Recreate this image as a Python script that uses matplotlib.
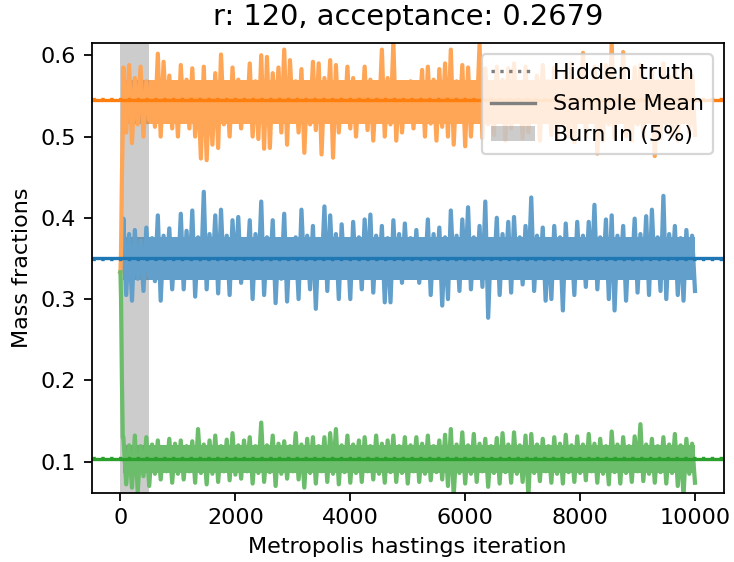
# Metropolis hastings trace of the mass fractions

import numpy as np
import matplotlib
matplotlib.use('Agg')
import matplotlib.pyplot as plt
import matplotlib.colors as mcolors
from matplotlib.lines import Line2D
from matplotlib.patches import Patch

# Chain settings
r_value = 120
acceptance = 0.2679
n_iter = 10000
burn_in = 500

# First few iterations (chain starts at 1/3 each)
start_iter = [0, 10, 25, 40]
start_blue = [0.333, 0.334, 0.338, 0.345]
start_orange = [0.333, 0.36, 0.45, 0.51]
start_green = [0.333, 0.30, 0.20, 0.13]

# Upper / lower excursions of the trace in each block of 100 iterations
orange_hi = [
    0.585, 0.588, 0.572, 0.586, 0.568, 0.566, 0.602, 0.592, 0.575, 0.566,
    0.588, 0.570, 0.584, 0.565, 0.586, 0.562, 0.578, 0.601, 0.566, 0.585,
    0.570, 0.564, 0.590, 0.568, 0.600, 0.598, 0.578, 0.585, 0.607, 0.594,
    0.568, 0.583, 0.565, 0.592, 0.590, 0.572, 0.594, 0.588, 0.566, 0.586,
    0.572, 0.565, 0.586, 0.570, 0.563, 0.607, 0.572, 0.616, 0.566, 0.562,
    0.568, 0.564, 0.582, 0.586, 0.570, 0.583, 0.590, 0.607, 0.568, 0.588,
    0.585, 0.566, 0.613, 0.584, 0.565, 0.586, 0.570, 0.584, 0.590, 0.566,
    0.586, 0.565, 0.575, 0.588, 0.568, 0.585, 0.564, 0.580, 0.590, 0.570,
    0.603, 0.568, 0.586, 0.565, 0.588, 0.614, 0.570, 0.604, 0.566, 0.585,
    0.588, 0.565, 0.580, 0.568, 0.590, 0.574, 0.586, 0.565, 0.582, 0.575,
]
orange_lo = [
    0.505, 0.492, 0.515, 0.500, 0.520, 0.512, 0.500, 0.522, 0.510, 0.500,
    0.518, 0.510, 0.500, 0.473, 0.471, 0.490, 0.486, 0.515, 0.500, 0.522,
    0.510, 0.520, 0.500, 0.497, 0.485, 0.486, 0.518, 0.505, 0.490, 0.522,
    0.505, 0.480, 0.515, 0.508, 0.478, 0.520, 0.474, 0.505, 0.518, 0.510,
    0.500, 0.520, 0.508, 0.495, 0.522, 0.500, 0.515, 0.495, 0.505, 0.520,
    0.510, 0.522, 0.500, 0.516, 0.495, 0.512, 0.500, 0.490, 0.518, 0.488,
    0.500, 0.520, 0.498, 0.515, 0.502, 0.520, 0.495, 0.510, 0.521, 0.498,
    0.505, 0.518, 0.495, 0.520, 0.502, 0.498, 0.515, 0.500, 0.493, 0.520,
    0.500, 0.518, 0.479, 0.495, 0.515, 0.498, 0.520, 0.500, 0.495, 0.515,
    0.500, 0.520, 0.476, 0.498, 0.515, 0.500, 0.495, 0.520, 0.505, 0.502,
]
blue_hi = [
    0.399, 0.380, 0.385, 0.372, 0.388, 0.375, 0.403, 0.378, 0.387, 0.374,
    0.405, 0.384, 0.409, 0.376, 0.432, 0.380, 0.403, 0.410, 0.378, 0.397,
    0.401, 0.374, 0.397, 0.380, 0.420, 0.376, 0.397, 0.373, 0.405, 0.372,
    0.376, 0.410, 0.378, 0.390, 0.374, 0.414, 0.403, 0.380, 0.392, 0.374,
    0.395, 0.376, 0.398, 0.404, 0.378, 0.390, 0.375, 0.397, 0.380, 0.393,
    0.375, 0.385, 0.373, 0.398, 0.380, 0.388, 0.376, 0.409, 0.378, 0.398,
    0.413, 0.376, 0.390, 0.420, 0.374, 0.400, 0.380, 0.395, 0.401, 0.376,
    0.390, 0.425, 0.378, 0.388, 0.374, 0.390, 0.376, 0.393, 0.373, 0.395,
    0.378, 0.395, 0.416, 0.376, 0.398, 0.403, 0.378, 0.390, 0.374, 0.399,
    0.380, 0.402, 0.410, 0.376, 0.427, 0.380, 0.390, 0.375, 0.385, 0.378,
]
blue_lo = [
    0.305, 0.298, 0.325, 0.310, 0.328, 0.322, 0.298, 0.330, 0.312, 0.326,
    0.312, 0.328, 0.303, 0.326, 0.312, 0.330, 0.307, 0.326, 0.305, 0.328,
    0.320, 0.330, 0.300, 0.326, 0.305, 0.328, 0.295, 0.325, 0.297, 0.326,
    0.300, 0.328, 0.312, 0.288, 0.330, 0.310, 0.327, 0.300, 0.328, 0.300,
    0.326, 0.312, 0.330, 0.308, 0.328, 0.296, 0.296, 0.326, 0.320, 0.330,
    0.328, 0.320, 0.330, 0.305, 0.326, 0.292, 0.300, 0.328, 0.310, 0.330,
    0.312, 0.326, 0.315, 0.277, 0.328, 0.305, 0.330, 0.308, 0.326, 0.318,
    0.328, 0.310, 0.326, 0.298, 0.300, 0.330, 0.286, 0.326, 0.305, 0.328,
    0.315, 0.328, 0.312, 0.326, 0.300, 0.286, 0.328, 0.298, 0.330, 0.308,
    0.326, 0.305, 0.328, 0.310, 0.300, 0.328, 0.305, 0.298, 0.326, 0.310,
]
green_hi = [
    0.130, 0.120, 0.132, 0.119, 0.130, 0.121, 0.126, 0.118, 0.128, 0.122,
    0.126, 0.119, 0.125, 0.140, 0.121, 0.126, 0.132, 0.119, 0.127, 0.135,
    0.120, 0.126, 0.130, 0.119, 0.148, 0.120, 0.132, 0.122, 0.125, 0.119,
    0.135, 0.121, 0.128, 0.130, 0.119, 0.130, 0.135, 0.140, 0.120, 0.132,
    0.121, 0.126, 0.130, 0.119, 0.132, 0.122, 0.126, 0.132, 0.119, 0.130,
    0.120, 0.130, 0.122, 0.132, 0.119, 0.126, 0.133, 0.140, 0.121, 0.136,
    0.120, 0.134, 0.122, 0.128, 0.119, 0.129, 0.135, 0.121, 0.136, 0.120,
    0.132, 0.134, 0.121, 0.128, 0.119, 0.130, 0.122, 0.133, 0.120, 0.131,
    0.121, 0.134, 0.122, 0.128, 0.119, 0.137, 0.121, 0.130, 0.119, 0.131,
    0.146, 0.121, 0.128, 0.119, 0.130, 0.121, 0.134, 0.120, 0.128, 0.122,
]
green_lo = [
    0.072, 0.068, 0.063, 0.082, 0.070, 0.085, 0.078, 0.088, 0.074, 0.085,
    0.078, 0.088, 0.074, 0.086, 0.072, 0.085, 0.075, 0.088, 0.077, 0.084,
    0.079, 0.088, 0.073, 0.086, 0.075, 0.087, 0.070, 0.085, 0.079, 0.088,
    0.078, 0.068, 0.086, 0.073, 0.088, 0.075, 0.085, 0.072, 0.087, 0.074,
    0.086, 0.075, 0.088, 0.078, 0.085, 0.074, 0.087, 0.075, 0.086, 0.073,
    0.088, 0.075, 0.085, 0.077, 0.087, 0.078, 0.070, 0.058, 0.086, 0.073,
    0.085, 0.075, 0.088, 0.069, 0.086, 0.073, 0.087, 0.074, 0.085, 0.075,
    0.057, 0.086, 0.076, 0.088, 0.074, 0.085, 0.073, 0.087, 0.075, 0.086,
    0.077, 0.088, 0.074, 0.085, 0.072, 0.087, 0.073, 0.086, 0.075, 0.088,
    0.076, 0.085, 0.074, 0.087, 0.073, 0.086, 0.070, 0.058, 0.085, 0.074,
]

# Range that the trace fills densely (blue, orange, green)
core_lo = [0.324, 0.516, 0.086]
core_hi = [0.376, 0.569, 0.120]

# Hidden truth and sample mean of each fraction (blue, orange, green)
hidden_truth = [0.349, 0.546, 0.104]
sample_mean = [0.3505, 0.5452, 0.1037]
colors = ['C0', 'C1', 'C2']


def build_trace(start, hi, lo):
    # zig-zag between the upper and lower excursions, two steps per block
    vals = np.column_stack([hi, lo]).ravel()
    steps = np.arange(1, len(vals) + 1) * (n_iter / len(vals))
    return np.concatenate([start_iter, steps]), np.concatenate([start, vals])


def faded(c, alpha=0.7):
    # colour of the trace drawn with alpha over white, as an opaque colour
    rgb = np.array(mcolors.to_rgb(c))
    return tuple(alpha * rgb + (1 - alpha))


traces = [
    build_trace(start_blue, blue_hi, blue_lo),
    build_trace(start_orange, orange_hi, orange_lo),
    build_trace(start_green, green_hi, green_lo),
]

fig = plt.figure(figsize=(734 / 160, 562 / 160), dpi=160)
ax = fig.add_subplot(111)
fig.subplots_adjust(left=0.125, right=0.986, bottom=0.123, top=0.923)

for (it, tr), lo, hi, c in zip(traces, core_lo, core_hi, colors):
    ax.fill_between([start_iter[-1], n_iter], lo, hi, color=faded(c), lw=0)
    ax.plot(it, tr, color=faded(c), lw=1.9)

for truth, mean, c in zip(hidden_truth, sample_mean, colors):
    ax.axhline(truth, color=c, linestyle=':')
    ax.axhline(mean, color=c, linestyle='-')

ax.axvspan(0, burn_in, color='gray', alpha=0.4, lw=0)

ax.set_xlim(-500, 10500)
ax.set_ylim(0.0615, 0.6148)
ax.set_xlabel('Metropolis hastings iteration')
ax.set_ylabel('Mass fractions')
ax.set_title(f'r: {r_value}, acceptance: {acceptance}', fontsize=13, pad=8)

handles = [
    Line2D([0], [0], color='gray', linestyle=':'),
    Line2D([0], [0], color='gray', linestyle='-'),
    Patch(color='gray', alpha=0.4, lw=0),
]
ax.legend(handles, ['Hidden truth', 'Sample Mean', 'Burn In (5%)'], loc='upper right')

fig.savefig('out.png', dpi=160)
